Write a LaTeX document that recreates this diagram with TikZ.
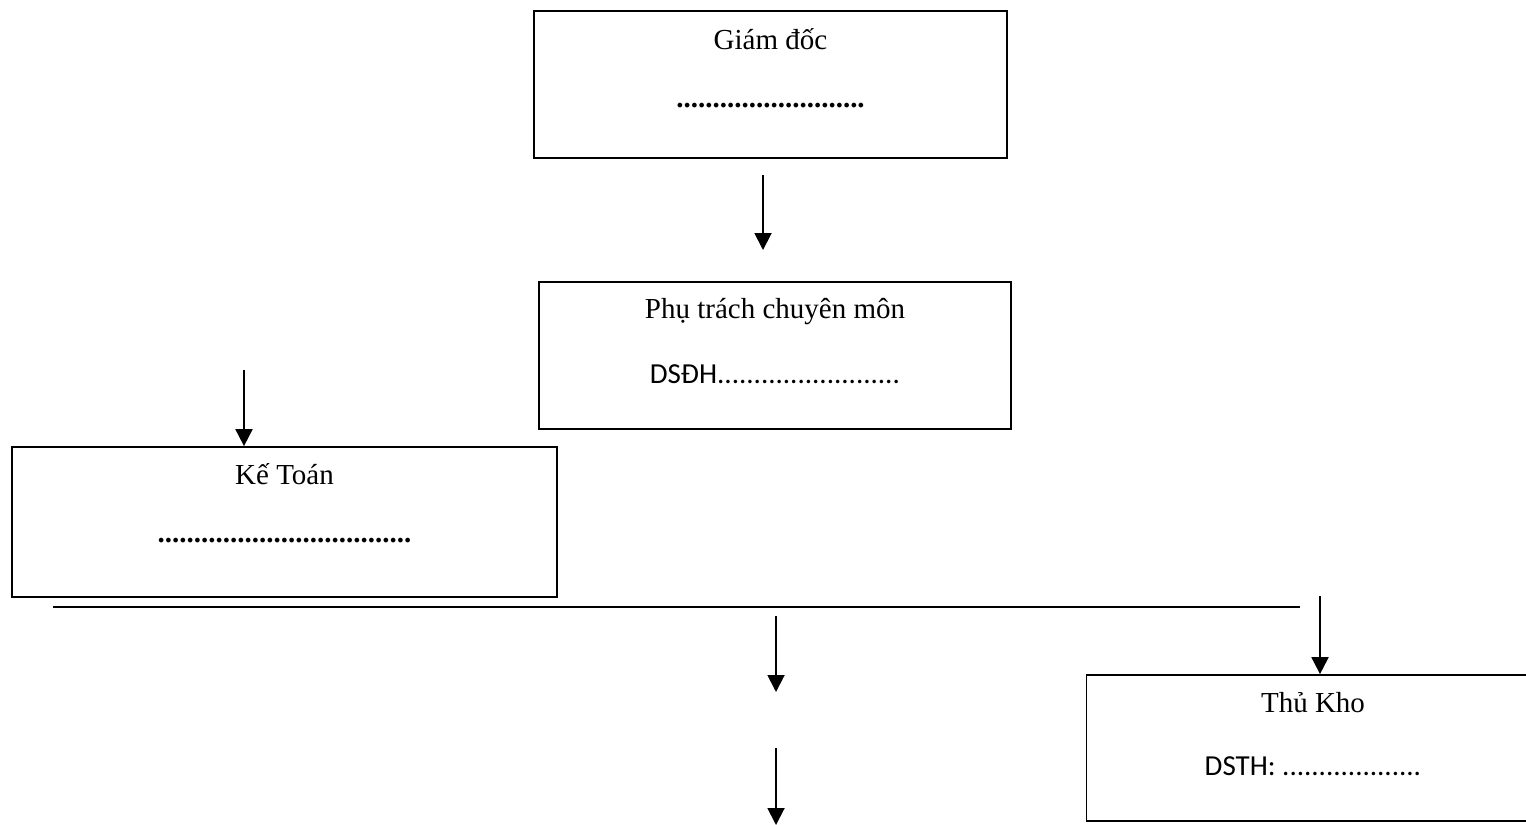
\documentclass[tikz,border=0pt]{standalone}
\usepackage{fontspec}
\setmainfont{Liberation Serif}
\newfontfamily\calib{Carlito}
\usepackage{tikz}
\usetikzlibrary{positioning, arrows.meta}
\tikzset{
    block/.style={
        draw, line width=1pt,
        inner sep=0pt,
        minimum height = 2.94cm
    },
    title/.style = {font=\fontsize{16.5}{19}\selectfont, inner sep=0pt},
    subline/.style = {font=\calib\fontsize{16.5}{19}\selectfont, inner sep=0pt},
    dotline/.style = {font=\bfseries\fontsize{16.5}{19}\selectfont, inner sep=0pt},
    line/.style = {line width=1.1pt, -{Triangle[length=0.34cm, width=0.34cm]}}
}

\begin{document}
\begin{tikzpicture}

                        \useasboundingbox (0,0) rectangle (30.52,-16.48);

                        % Giam doc
                        \node[block, minimum width=9.46cm] (gd) at (15.41,-1.69) {};
                        \node[title] (gdtitle) at ([yshift=-0.58cm]gd.north) {Giám đốc};
                        \node[dotline] (gddots) at ([yshift=-1.9cm]gd.north) {..........................};

                        % Phu trach chuyen mon
                        \node[block, minimum width=9.44cm] (ptcm) at (15.5,-7.11) {};
                        \node[title] (ptcmtitle) at ([yshift=-0.6cm]ptcm.north) {Phụ trách chuyên môn};
                        \node[subline] (ptcmdots) at ([yshift=-1.86cm]ptcm.north) {DSĐH.........................};

                        % Ke toan
                        \node[block, minimum width=10.9cm, minimum height=3cm] (kt) at (5.69,-10.44) {};
                        \node[title] (kttitle) at ([yshift=-0.56cm]kt.north) {Kế Toán};
                        \node[dotline] (ktdots) at ([yshift=-1.88cm]kt.north) {...................................};

                        % Thu kho
                        \node[block, minimum width=9.06cm, minimum height=2.92cm] (tk) at (26.26,-14.96) {};
                        \node[title] (tktitle) at ([yshift=-0.56cm]tk.north) {Thủ Kho};
                        \node[subline] (tkdots) at ([yshift=-1.84cm]tk.north) {DSTH: ...................};

                        % Free ends
                        \coordinate (gdout) at (15.26,-3.5);
                        \coordinate (gdend) at (15.26,-5.0);
                        \coordinate (ktin) at (4.88,-7.4);
                        \coordinate (barL) at (1.06,-12.14);
                        \coordinate (barR) at (26.0,-12.14);
                        \coordinate (tkin) at (26.4,-11.92);
                        \coordinate (midA) at (15.52,-12.32);
                        \coordinate (midB) at (15.52,-13.84);
                        \coordinate (midC) at (15.52,-14.96);
                        \coordinate (midD) at (15.52,-16.5);

                        % Lines
                        \draw[line] (gdout) -- (gdend);
                        \draw[line] (ktin) -- (ktin |- kt.north);
                        \draw[line width=1pt] (barL) -- (barR);
                        \draw[line] (tkin) -- (tkin |- tk.north);
                        \draw[line] (midA) -- (midB);
                        \draw[line] (midC) -- (midD);

                    \end{tikzpicture}
\end{document}
